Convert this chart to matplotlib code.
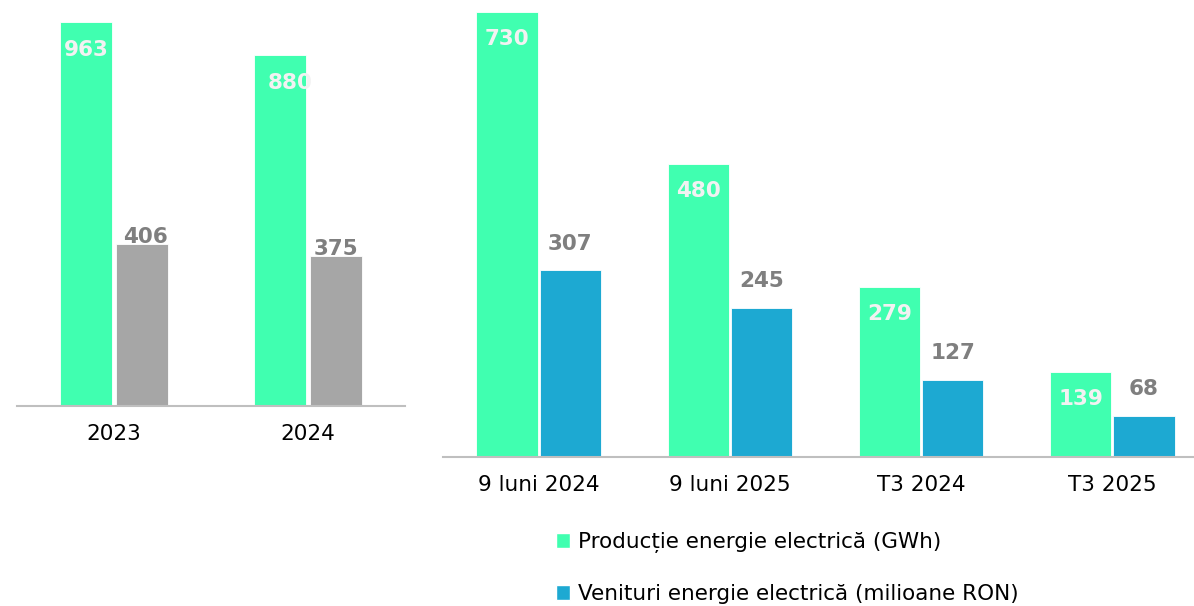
import matplotlib
matplotlib.use("Agg")
import matplotlib.pyplot as plt
from matplotlib.patches import Patch

plt.rcParams['font.family'] = ['DejaVu Sans']

# Data
years = ['2023', '2024']
prod_years = [963, 880]
rev_years = [406, 375]

periods = ['9 luni 2024', '9 luni 2025', 'T3 2024', 'T3 2025']
prod_periods = [730, 480, 279, 139]
rev_periods = [307, 245, 127, 68]

legend_labels = ['Producție energie electrică (GWh)',
                 'Venituri energie electrică (milioane RON)']

GREEN = '#40FFB0'
BLUE = '#1DA9D2'
GRAY = '#A6A6A6'
AXIS = '#BFBFBF'
LBL_IN = '#F2F2F2'
LBL_OUT = '#7F7F7F'

W, H = 1194, 606
fig = plt.figure(figsize=(W / 100, H / 100), dpi=100)

# left chart: yearly
ax1 = fig.add_axes([17 / W, 200 / H, 388 / W, 406 / H])
x1 = range(len(years))
bw1, off1 = 0.268, 0.144
ax1.bar([i - off1 for i in x1], prod_years, bw1, color=GREEN, edgecolor='white', linewidth=0.6)
ax1.bar([i + off1 for i in x1], rev_years, bw1, color=GRAY, edgecolor='white', linewidth=0.6)
ax1.set_xlim(-0.5, 1.5)
ax1.set_ylim(0, 1018)
# small nudges to mimic label placement in the original
dx_in = [0.0, 0.05]
dx_out = [0.02, 0.0]
for i, (p, r) in enumerate(zip(prod_years, rev_years)):
    ax1.text(i - off1 + dx_in[i], p - 70, str(p), ha='center', va='center',
             color=LBL_IN, fontsize=15.5, fontweight='bold')
    ax1.text(i + off1 + dx_out[i], r + 18, str(r), ha='center', va='center',
             color=LBL_OUT, fontsize=15.5, fontweight='bold')
ax1.set_xticks(list(x1))
ax1.set_xticklabels(years)

# right chart: periods
ax2 = fig.add_axes([443 / W, 149 / H, 765 / W, 457 / H])
x2 = range(len(periods))
bw2, off2 = 0.32, 0.165
ax2.bar([i - off2 for i in x2], prod_periods, bw2, color=GREEN, edgecolor='white', linewidth=0.6)
ax2.bar([i + off2 for i in x2], rev_periods, bw2, color=BLUE, edgecolor='white', linewidth=0.6)
ax2.set_xlim(-0.5, 3.5)
ax2.set_ylim(0, 749.7)
for i, (p, r) in enumerate(zip(prod_periods, rev_periods)):
    ax2.text(i - off2, p - 44, str(p), ha='center', va='center',
             color=LBL_IN, fontsize=15.5, fontweight='bold')
    ax2.text(i + off2, r + 43, str(r), ha='center', va='center',
             color=LBL_OUT, fontsize=15.5, fontweight='bold')
ax2.set_xticks(list(x2))
ax2.set_xticklabels(periods)

for ax in (ax1, ax2):
    ax.set_facecolor('none')
    for s in ('top', 'right', 'left'):
        ax.spines[s].set_visible(False)
    ax.spines['bottom'].set_color(AXIS)
    ax.spines['bottom'].set_linewidth(1.5)
    ax.set_yticks([])
    ax.tick_params(axis='x', length=0, pad=13, labelsize=15.5, labelcolor='black')

handles = [Patch(facecolor=GREEN, edgecolor='white'), Patch(facecolor=BLUE, edgecolor='white')]
fig.legend(handles, legend_labels, loc='upper left', bbox_to_anchor=(556 / W, 1 - 532 / H),
           frameon=False, fontsize=15.5, handlelength=0.65, handleheight=0.65,
           handletextpad=0.35, labelspacing=1.45, borderpad=0, borderaxespad=0)

fig.savefig('out.png', dpi=100)
